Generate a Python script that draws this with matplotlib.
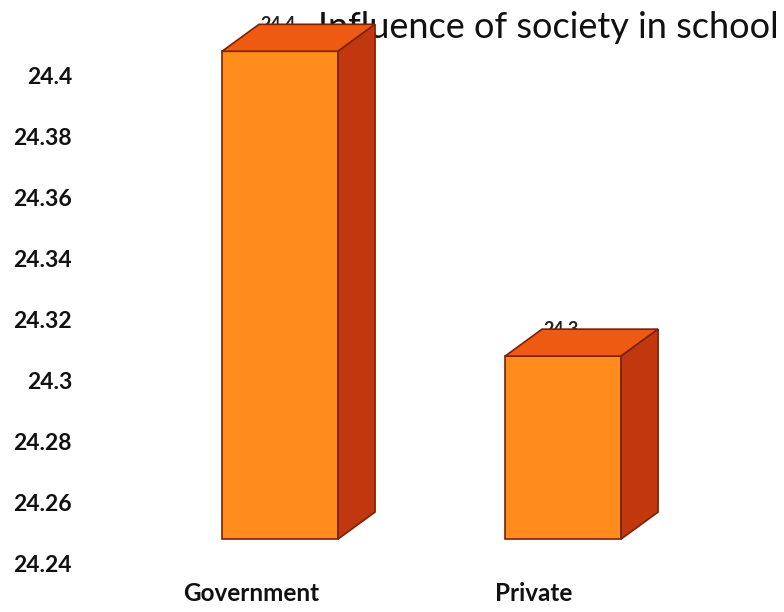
import matplotlib.pyplot as plt
import numpy as np

categories = ['Government', 'Private']
values = [24.4, 24.3]
yticks = [24.24, 24.26, 24.28, 24.3, 24.32, 24.34, 24.36, 24.38, 24.4]
ytick_labels = ['24.24', '24.26', '24.28', '24.3', '24.32', '24.34', '24.36', '24.38', '24.4']

base = 24.24
front_c = '#FF8C1C'
top_c = '#EE5A12'
side_c = '#C2380E'
edge_c = '#7A2205'

plt.rcParams['font.family'] = ['Lato', 'DejaVu Sans']

fig = plt.figure(figsize=(7.84, 6.12), dpi=100)
ax = fig.add_axes([0.1397, 0.080, 0.722, 0.797])
ax.set_xlim(-0.5, 1.5)
ax.set_ylim(24.24, 24.4)

# pixel -> data scale factors (for the fake 3d look)
px_x = 1 / 283
px_y = 0.16 / 488
x0 = -29 * px_x      # front face left edge relative to tick
w = 116 * px_x       # front face width
lift = 24 * px_y     # front face lifted above the floor line
dx = 37 * px_x       # depth offset
dy = 27 * px_y

x = np.arange(len(categories))
bars = ax.bar(x + x0, np.array(values) - base, bottom=base + lift, width=w, align='edge',
              color=front_c, edgecolor=edge_c, linewidth=1.2, zorder=5)
for b in bars:
    b.set_clip_on(False)
for xi, v in zip(x, values):
    l = xi + x0
    r = l + w
    t = v + lift
    b = base + lift
    ax.fill([l, r, r + dx, l + dx], [t, t, t + dy, t + dy],
            facecolor=top_c, edgecolor=edge_c, linewidth=1.2, zorder=5, clip_on=False)
    ax.fill([r, r + dx, r + dx, r], [t, t + dy, b + dy, b],
            facecolor=side_c, edgecolor=edge_c, linewidth=1.2, zorder=5, clip_on=False)
    # data label, half hidden behind the bar top like in the original
    ax.text(xi + 27 * px_x, v + 51 * px_y, str(v), ha='center', va='center',
            fontsize=13, fontweight='bold', color='#222222', zorder=2, clip_on=False)

ax.set_yticks(yticks)
ax.set_yticklabels(ytick_labels, fontsize=16.5, fontweight='bold', color='#111111')
ax.set_xticks(x)
ax.set_xticklabels(categories, fontsize=17.5, fontweight='bold', color='#111111')
ax.tick_params(axis='both', length=0)
ax.tick_params(axis='y', pad=27)
ax.tick_params(axis='x', pad=14)
for s in ax.spines.values():
    s.set_visible(False)

ax.text(318 / 784, 1 - 38 / 612, 'Influence of society in school', transform=fig.transFigure,
        ha='left', va='baseline', fontsize=26, color='#111111', zorder=1)

fig.savefig('out.png', dpi=100)
